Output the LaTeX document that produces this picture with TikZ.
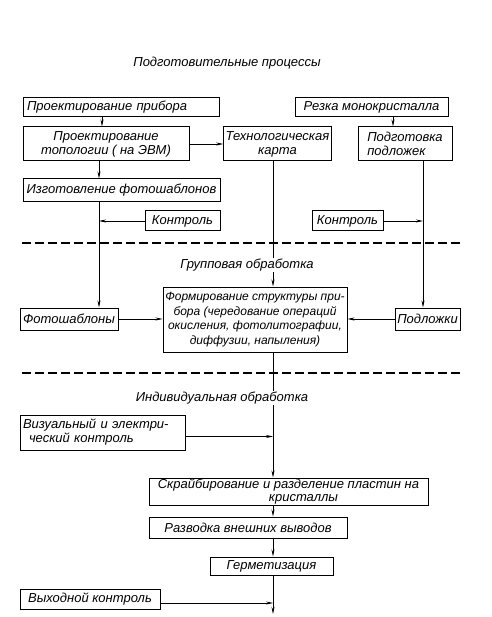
\documentclass[tikz,border=0pt]{standalone}
\usepackage{fontspec}
\setmainfont{Liberation Sans}
\usetikzlibrary{arrows.meta,calc}
\begin{document}
\begin{tikzpicture}[x=1pt,y=-1pt,
  every node/.style={font=\itshape\fontsize{13}{14}\selectfont},
  box/.style={draw,line width=1pt,inner sep=2pt,anchor=center},
  lbl/.style={inner sep=1pt,fill=white},
  arr/.style={line width=0.65pt,-{Stealth[length=7pt,width=3pt]}},
  dsh/.style={line width=1.1pt,dash pattern=on 9pt off 4pt}]
\useasboundingbox (0,0) rectangle (491,617);
% column coordinates
\coordinate (cA) at (102,0);
\coordinate (cB) at (99,0);
\coordinate (cC) at (393,0);
\coordinate (cD) at (423,0);
\coordinate (cM) at (273,0);
\coordinate (bot) at (273,614);
% boxes
\node[box,minimum width=196pt,minimum height=19pt,align=left,text width=188pt] (b1) at (121,107.5) {Проектирование прибора};
\node[box,minimum width=153pt,minimum height=19pt] (b2) at (371.5,107.5) {Резка монокристалла};
\node[box,minimum width=166pt,minimum height=34pt,align=center] (b3) at (106,144) {Проектирование\\топологии ( на ЭВМ)};
\node[box,minimum width=101pt,minimum height=34pt,align=center] (b4) at (277.5,144) {Технологическая\\карта};
\node[box,minimum width=94pt,minimum height=34pt,align=left] (b5) at (405,144) {Подготовка\\подложек};
\node[box,minimum width=197pt,minimum height=23pt] (b6) at (121.5,190.5) {Изготовление фотошаблонов};
\node[box,minimum width=75pt,minimum height=20pt] (b7) at (182.5,221) {Контроль};
\node[box,minimum width=71pt,minimum height=20pt] (b8) at (347.5,221) {Контроль};
\node[box,minimum width=184pt,minimum height=65pt,align=center,inner sep=1.5pt,font=\itshape\fontsize{12}{14.5}\selectfont] (b9) at (255,319.5) {Формирование структуры при-\\бора (чередование операций\\окисления, фотолитографии,\\диффузии, напыления)};
\node[box,minimum width=98pt,minimum height=22pt] (b10) at (69,319) {Фотошаблоны};
\node[box,minimum width=65pt,minimum height=22pt] (b11) at (427.5,319) {Подложки};
\node[box,minimum width=165pt,minimum height=35pt,align=left,text width=159pt] (b12) at (102.5,432.5) {Визуальный и электри-\\\hspace*{6pt}ческий контроль};
\node[box,minimum width=279pt,minimum height=27pt,align=center,inner sep=1pt,font=\itshape\fontsize{13}{12.5}\selectfont] (b13) at (288.5,491.5) {Скрайбирование и разделение пластин на\\\hspace*{30pt}кристаллы};
\node[box,minimum width=198pt,minimum height=21pt] (b14) at (248,527.5) {Разводка внешних выводов};
\node[box,minimum width=123pt,minimum height=18pt] (b15) at (271.5,566) {Герметизация};
\node[box,minimum width=140pt,minimum height=20pt] (b16) at (90,599) {Выходной контроль};
% dashed separators
\coordinate (d1a) at (22,243); \coordinate (d1b) at (463,243);
\coordinate (d2a) at (22,373); \coordinate (d2b) at (463,373);
\draw[dsh] (d1a) -- (d1b);
\draw[dsh] (d2a) -- (d2b);
% connectors
\draw[arr] (cA |- b1.south) -- (cA |- b3.north);
\draw[arr] (cC |- b2.south) -- (cC |- b5.north);
\draw[arr] (b3.east) -- (b4.west);
\draw[arr] (b3.south -| cB) -- (b6.north -| cB);
\draw[arr] (b6.south -| cB) -- (b10.north -| cB);
\draw[arr] (b7.west) -- (b7.west -| cB);
\draw[arr] (b5.south -| cD) -- (b11.north -| cD);
\draw[arr] (b8.east) -- (b8.east -| cD);
\draw[arr] (b4.south -| cM) -- (b9.north -| cM);
\draw[arr] (b10.east) -- (b10.east -| b9.west);
\draw[arr] (b11.west) -- (b11.west -| b9.east);
\draw[arr] (b9.south -| cM) -- (b13.north -| cM);
\coordinate (v1) at ([yshift=-4pt]b12.east);
\draw[arr] (v1) -- (v1 -| cM);
\draw[arr] (b13.south -| cM) -- (b14.north -| cM);
\draw[arr] (b14.south -| cM) -- (b15.north -| cM);
\draw[arr] (b15.south -| cM) -- (bot);
\coordinate (v2) at ([yshift=-4pt]b16.east);
\draw[arr] (v2) -- (v2 -| cM);
% section labels
\node[lbl] (t1) at (227,63) {Подготовительные процессы};
\node[lbl] (t2) at (247,265) {Групповая обработка};
\node[lbl] (t3) at (222,398) {Индивидуальная обработка};
\end{tikzpicture}
\end{document}
